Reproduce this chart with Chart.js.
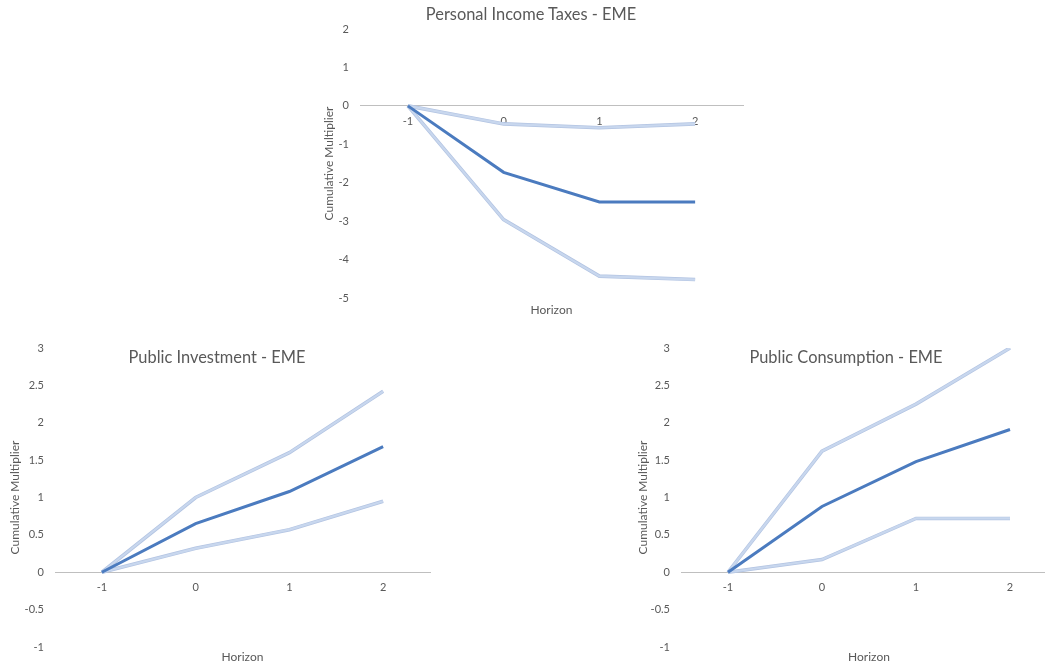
<!DOCTYPE html>
<html>
<head>
<meta charset="utf-8">
<script src="https://cdn.jsdelivr.net/npm/chart.js@4"></script>
<style>
  html, body { margin: 0; padding: 0; background: #fff; width: 1045px; height: 667px; overflow: hidden; position: relative; }
  .box { position: absolute; }
  .ttl { position: absolute; font-family: Lato, "Open Sans", sans-serif; font-size: 16.4px; color: #595959; white-space: nowrap; transform: translate(-50%, -50%); }
</style>
</head>
<body>
<div class="box" style="left:310px;top:0;width:450px;height:320px"><canvas id="cTax"></canvas></div>
<div class="box" style="left:0;top:330px;width:445px;height:337px"><canvas id="cInv"></canvas></div>
<div class="box" style="left:630px;top:330px;width:440px;height:337px"><canvas id="cCons"></canvas></div>
<div class="ttl" style="left:531px;top:13px">Personal Income Taxes - EME</div>
<div class="ttl" style="left:217px;top:356px">Public Investment - EME</div>
<div class="ttl" style="left:846px;top:356px">Public Consumption - EME</div>
<script>
// Horizonte (Kategorien)
const horizon = ["-1", "0", "1", "2"];

// Personal Income Taxes - EME
const taxMid   = [0, -1.73, -2.5, -2.5];
const taxUpper = [0, -0.47, -0.57, -0.47];
const taxLower = [0, -2.96, -4.43, -4.52];

// Public Investment - EME
const invMid   = [0, 0.65, 1.08, 1.68];
const invUpper = [0, 1.0, 1.6, 2.42];
const invLower = [0, 0.32, 0.57, 0.95];

// Public Consumption - EME
const consMid   = [0, 0.88, 1.48, 1.91];
const consUpper = [0, 1.62, 2.25, 3.0];
const consLower = [0, 0.17, 0.72, 0.72];

const DARK = "#4b7bbf";
const LIGHT = "#c8d7ee";
const EDGE = "#b3c4e2";
const TXT = "#595959";
const FONT = "Lato, 'Open Sans', sans-serif";

function band(data) {
  // helle Konfidenzlinie: dunklerer Rand + hellere Füllung
  return [
    { data, borderColor: EDGE, borderWidth: 3.6, pointRadius: 0, tension: 0, order: 3 },
    { data, borderColor: LIGHT, borderWidth: 2.2, pointRadius: 0, tension: 0, order: 2 },
  ];
}

function multChart(id, mid, upper, lower, yCfg, pad) {
  const ctx = document.getElementById(id).getContext("2d");
  return new Chart(ctx, {
    type: "line",
    data: {
      labels: horizon,
      datasets: [
        ...band(upper), ...band(lower),
        { data: mid, borderColor: DARK, borderWidth: 3, pointRadius: 0, tension: 0, order: 1 },
      ],
    },
    options: {
      responsive: true, maintainAspectRatio: false, animation: false,
      layout: { padding: pad.layout },
      plugins: { legend: { display: false }, tooltip: { enabled: false } },
      scales: {
        x: {
          type: "category", position: { y: 0 }, offset: true,
          grid: { display: false, drawTicks: false },
          border: { display: true, color: "#bfbfbf", width: 1 },
          ticks: { color: TXT, font: { family: FONT, size: 11 }, padding: 9, maxRotation: 0 },
          afterFit: (s) => { s.height = 0; },
        },
        x2: {
          type: "category", position: "bottom", offset: true,
          grid: { display: false, drawTicks: false }, border: { display: false },
          ticks: { display: false },
          title: { display: true, text: "Horizon", color: TXT, font: { family: FONT, size: 12 }, padding: { top: 0, bottom: 3 } },
          afterFit: (s) => { s.height = pad.bottomH; },
        },
        y: {
          min: yCfg.min, max: yCfg.max,
          grid: { display: false, drawTicks: false }, border: { display: false },
          ticks: {
            stepSize: yCfg.step, color: TXT, font: { family: FONT, size: 11 }, padding: 11,
            callback: (v) => String(Math.round(v * 10) / 10),
          },
          title: { display: true, text: "Cumulative Multiplier", color: TXT, font: { family: FONT, size: 12 }, padding: 0 },
          afterFit: (s) => { s.width = pad.yW; },
        },
      },
    },
  });
}

multChart("cTax", taxMid, taxUpper, taxLower, { min: -5, max: 2, step: 1 },
  { layout: { left: 12, right: 17, top: 29, bottom: 0 }, yW: 38, bottomH: 22 });
multChart("cInv", invMid, invUpper, invLower, { min: -1, max: 3, step: 0.5 },
  { layout: { left: 8, right: 15, top: 18, bottom: 0 }, yW: 47, bottomH: 20 });
multChart("cCons", consMid, consUpper, consLower, { min: -1, max: 3, step: 0.5 },
  { layout: { left: 6, right: 13, top: 18, bottom: 0 }, yW: 45, bottomH: 20 });
</script>
</body>
</html>
